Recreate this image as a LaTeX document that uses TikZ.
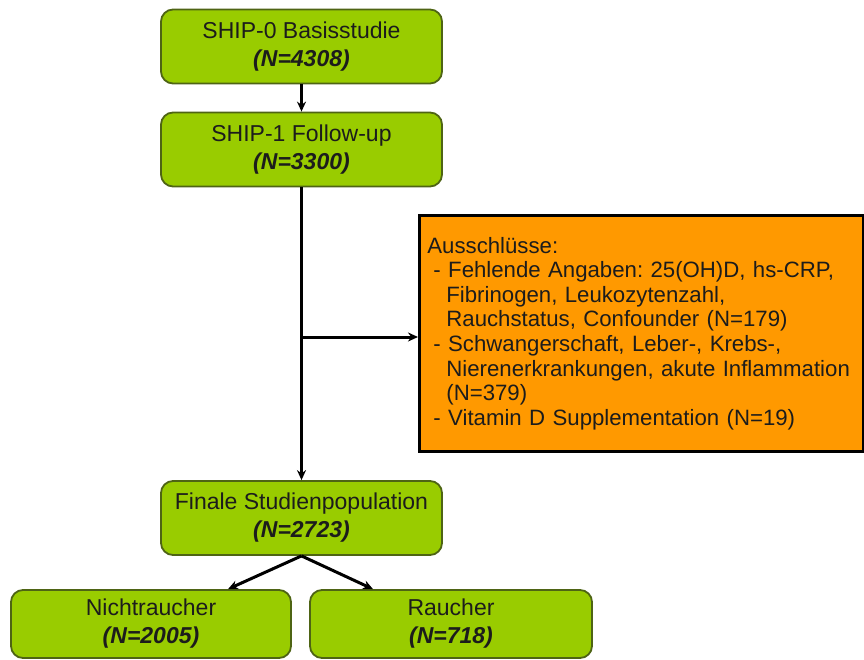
\documentclass[tikz,border=0pt]{standalone}
\usepackage{fontspec}
\setmainfont{Liberation Sans}
\usepackage{tikz}
\usetikzlibrary{calc,positioning,arrows.meta}
\usepackage{xcolor}
\definecolor{boxgreen}{RGB}{153,204,0}
\definecolor{edgegreen}{RGB}{78,100,20}
\definecolor{boxorange}{RGB}{255,153,0}
\definecolor{textdark}{RGB}{28,28,28}
\frenchspacing

\tikzset{
  stage/.style={draw=edgegreen, line width=1.8pt, fill=boxgreen, rounded corners=12pt,
    minimum width=281pt, minimum height=74pt, align=center, text=textdark,
    font=\fontsize{23}{28}\selectfont},
  exclbox/.style={draw=black, line width=2.8pt, fill=boxorange, align=left, text=textdark,
    text width=428pt, inner xsep=8pt, minimum height=236pt,
    font=\fontsize{22.2}{24.6}\selectfont},
  flow/.style={-{Stealth[length=10pt,width=9pt]}, line width=3pt, black}
}

\begin{document}
\begin{tikzpicture}[x=1pt, y=-1pt]
  \useasboundingbox (0,0) rectangle (864,660);

  % study stages
  \node[stage] (ship0) at (301.5,46.5) {SHIP-0 Basisstudie\\\textbf{\textit{(N=4308)}}};
  \node[stage] (ship1) at (301.5,149.5) {SHIP-1 Follow-up\\\textbf{\textit{(N=3300)}}};
  \node[stage] (final) at (301.5,518) {Finale Studienpopulation\\\textbf{\textit{(N=2723)}}};
  \node[stage, minimum width=280pt, minimum height=68pt] (nonsmk) at (151,624) {Nichtraucher\\\textbf{\textit{(N=2005)}}};
  \node[stage, minimum width=282pt, minimum height=68pt] (smk) at (451,624) {Raucher\\\textbf{\textit{(N=718)}}};

  % exclusions
  \node[exclbox, anchor=north west] (excl) at (418,214) {Ausschl\"usse:\\
    \hspace*{6pt}- Fehlende Angaben: 25(OH)D, hs-CRP,\\
    \hspace*{19pt}Fibrinogen, Leukozytenzahl,\\
    \hspace*{19pt}Rauchstatus, Confounder (N=179)\\
    \hspace*{6pt}- Schwangerschaft, Leber-, Krebs-,\\
    \hspace*{19pt}Nierenerkrankungen, akute Inflammation\\
    \hspace*{19pt}(N=379)\\
    \hspace*{6pt}- Vitamin D Supplementation (N=19)\\[6pt]};

  % connectors
  \draw[flow] (ship0) -- (ship1);
  \draw[flow] (ship1) -- (final);
  \coordinate (branch) at ($(ship1.south)!0.5!(final.north)$);
  \coordinate (branch) at (branch |- 0,337);
  \draw[flow] (branch) -- (branch -| excl.west);
  \draw[flow] (final.south) -- ([xshift=77pt]nonsmk.north);
  \draw[flow] (final.south) -- ([xshift=-78pt]smk.north);
\end{tikzpicture}
\end{document}
